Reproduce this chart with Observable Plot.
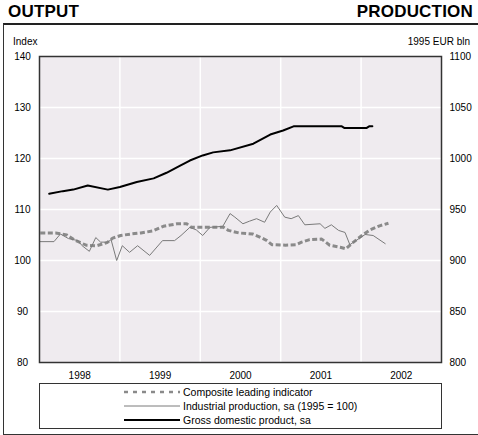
<!DOCTYPE html>
<html><head><meta charset="utf-8">
<script src="https://cdn.jsdelivr.net/npm/d3@7"></script>
<script src="https://cdn.jsdelivr.net/npm/@observablehq/plot@0.6"></script>
<style>
body{margin:0;background:#fff;font-family:"Liberation Sans",Arial,Helvetica,sans-serif;color:#000}
#wrap{position:relative;width:478px;height:435px;overflow:hidden;background:#fff}
.title{position:absolute;top:3px;font-size:17px;line-height:17px;font-weight:bold;letter-spacing:0.2px}
#t1{left:8px}
#t2{right:5px}
#frame{position:absolute;left:3px;top:23px;width:476px;height:412px;box-sizing:border-box;border-top:2px solid #222;border-left:1px solid #333;border-bottom:1px solid #333}
#chart{position:absolute;left:0;top:0}
.ylab{position:absolute;top:36px;font-size:10px;line-height:12px}
#lyl{left:13px}
#ryl{right:8px}
#legend{position:absolute;left:39px;top:383px;width:403px;height:46px;box-sizing:border-box;border:1px solid #333;padding-top:1px;font-size:10.5px}
.row{height:14px;line-height:14px;padding-left:84px;display:flex;align-items:center;white-space:nowrap}
.row svg{flex:none;margin-right:3px}
</style></head><body>
<div id="wrap">
  <div id="frame"></div>
  <div class="title" id="t1">OUTPUT</div>
  <div class="title" id="t2">PRODUCTION</div>
  <div id="chart"></div>
  <div class="ylab" id="lyl">Index</div>
  <div class="ylab" id="ryl">1995 EUR bln</div>
  <div id="legend"></div>
</div>
<script>
// ---- data ----
const yearLabels = [1998, 1999, 2000, 2001, 2002];
const leftTicks = [80, 90, 100, 110, 120, 130, 140];
const rightTicks = [800, 850, 900, 950, 1000, 1050, 1100];
const seriesNames = ["Composite leading indicator", "Industrial production, sa (1995 = 100)", "Gross domestic product, sa"];

// Composite leading indicator (index)
const cliDate = [1998.01,1998.20,1998.34,1998.45,1998.58,1998.71,1998.84,1998.91,1999.01,1999.14,1999.26,1999.41,1999.54,1999.71,1999.83,1999.89,2000.04,2000.29,2000.35,2000.48,2000.65,2000.74,2000.83,2000.89,2001.06,2001.19,2001.26,2001.36,2001.51,2001.61,2001.74,2001.81,2001.89,2002.01,2002.11,2002.23,2002.34];
const cliValue = [105.4,105.4,105.0,103.9,103.0,102.9,103.5,104.4,104.9,105.2,105.4,105.8,106.7,107.2,107.2,106.5,106.5,106.5,105.9,105.4,105.2,104.6,103.9,103.1,103.0,103.1,103.6,104.1,104.2,103.0,102.6,102.3,103.4,104.9,106.0,106.8,107.3];

// Industrial production, sa (1995 = 100)
const ipDate = [1998.01,1998.18,1998.26,1998.36,1998.48,1998.53,1998.62,1998.70,1998.76,1998.85,1998.89,1998.96,1999.03,1999.12,1999.22,1999.37,1999.53,1999.68,1999.76,1999.87,1999.95,2000.03,2000.12,2000.28,2000.37,2000.43,2000.53,2000.61,2000.70,2000.80,2000.87,2000.95,2001.05,2001.13,2001.22,2001.30,2001.49,2001.55,2001.63,2001.72,2001.80,2001.86,2002.05,2002.15,2002.30];
const ipValue = [103.7,103.7,105.2,104.3,103.9,102.9,101.8,104.5,103.6,103.6,104.1,100.0,102.9,101.6,102.9,101.0,103.9,103.9,104.9,106.5,106.0,104.9,106.5,106.7,109.2,108.5,107.2,107.7,108.2,107.5,109.5,110.8,108.5,108.2,108.8,107.0,107.2,106.3,107.0,105.9,105.5,103.1,105.1,104.9,103.3];

// Gross domestic product, sa (1995 EUR bln, right axis)
const gdpDate = [1998.12,1998.29,1998.42,1998.60,1998.85,1999.00,1999.21,1999.42,1999.58,1999.75,1999.87,2000.03,2000.16,2000.37,2000.66,2000.87,2001.03,2001.16,2001.76,2001.79,2002.07,2002.10,2002.14];
const gdpValue = [965.4,968,969.5,973.5,969.5,972,977,980.5,986,993,998,1003,1006,1008,1014.5,1023.5,1027.5,1031.5,1031.5,1030,1030,1031.5,1031.5];

// ---- build ----
const toIndex = g => 80 + (g - 800) / 5;   // right axis 800..1100 -> left axis 80..140
const fromIndex = v => 800 + (v - 80) * 5;
const cli = cliDate.map((t, i) => ({t, v: cliValue[i]}));
const ip = ipDate.map((t, i) => ({t, v: ipValue[i]}));
const gdp = gdpDate.map((t, i) => ({t, v: toIndex(gdpValue[i])}));
const yearBounds = yearLabels.slice(1);

const colors = {cli: "#8a8a8a", ip: "#7a7a7a", gdp: "#000"};

const chart = Plot.plot({
  width: 478, height: 435,
  marginTop: 56, marginBottom: 73, marginLeft: 39, marginRight: 37,
  style: {fontFamily: '"Liberation Sans", Arial, sans-serif', fontSize: "10px", color: "#000", background: "transparent", overflow: "visible"},
  x: {domain: [1998, 2003]},
  y: {domain: [80, 140]},
  marks: [
    Plot.frame({fill: "#efebef", stroke: null}),
    Plot.gridY(leftTicks.slice(1, -1), {stroke: "#fff", strokeOpacity: 1, strokeWidth: 1.5}),
    Plot.gridX(yearBounds, {stroke: "#fff", strokeOpacity: 1, strokeWidth: 1.5}),
    Plot.line(cli, {x: "t", y: "v", stroke: colors.cli, strokeWidth: 3, strokeDasharray: "5,2.5", strokeLinecap: "butt"}),
    Plot.line(ip, {x: "t", y: "v", stroke: colors.ip, strokeWidth: 1}),
    Plot.line(gdp, {x: "t", y: "v", stroke: colors.gdp, strokeWidth: 2}),
    Plot.frame({stroke: "#333", strokeWidth: 1.5}),
    Plot.axisY(leftTicks, {anchor: "left", tickSize: 0, tickPadding: 17, textAnchor: "middle", label: null}),
    Plot.axisY(rightTicks.map(toIndex), {anchor: "right", tickSize: 0, tickPadding: 8, tickFormat: v => String(Math.round(fromIndex(v))), label: null}),
    Plot.axisX(yearLabels.map(y => y + 0.5), {anchor: "bottom", tickSize: 0, tickPadding: 9.5, tickFormat: d => String(Math.floor(d)), label: null, fontFamily: '"Liberation Sans Narrow", "Liberation Sans", Arial, sans-serif'})
  ]
});
document.getElementById("chart").appendChild(chart);

// legend
const legendStyles = [
  {stroke: colors.cli, width: 2.5, dash: "4,5"},
  {stroke: colors.ip, width: 1, dash: null},
  {stroke: colors.gdp, width: 1.8, dash: null}
];
const legend = document.getElementById("legend");
seriesNames.forEach((name, i) => {
  const s = legendStyles[i];
  const row = document.createElement("div");
  row.className = "row";
  row.innerHTML = `<svg width="56" height="14"><line x1="0" x2="56" y1="7" y2="7" stroke="${s.stroke}" stroke-width="${s.width}" ${s.dash ? `stroke-dasharray="${s.dash}"` : ""}/></svg><span>${name}</span>`;
  legend.appendChild(row);
});
</script>
</body></html>
